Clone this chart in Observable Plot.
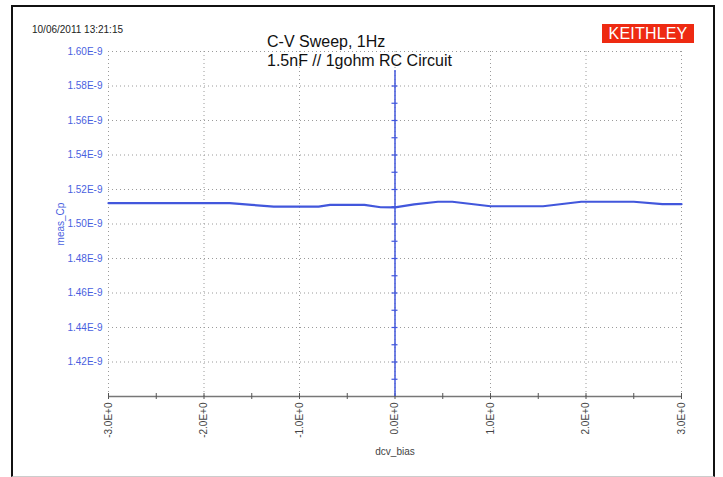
<!DOCTYPE html>
<html>
<head>
<meta charset="utf-8">
<script src="https://cdn.jsdelivr.net/npm/d3@7"></script>
<script src="https://cdn.jsdelivr.net/npm/@observablehq/plot@0.6"></script>
<style>
  html, body { margin: 0; padding: 0; background: #fff; }
  #wrap { position: relative; width: 723px; height: 477px; overflow: hidden; font-family: "Liberation Sans", Arial, sans-serif; }
  #frame { position: absolute; left: 11px; top: 5px; width: 700px; height: 469px; border-left: 2px solid #111; border-top: 2px solid #111; border-right: 2px solid #111; border-bottom: 1px solid #ccc; box-sizing: content-box; pointer-events: none; }
  #stamp { position: absolute; left: 32px; top: 24px; font-size: 10px; color: #222; }
  #title { position: absolute; left: 267px; top: 32px; font-size: 16px; line-height: 19px; color: #111; }
  #logo { position: absolute; left: 602px; top: 24px; width: 92px; height: 19px; background: #ee2a12; color: #fff; font-size: 16px; line-height: 19px; text-align: center; letter-spacing: 0.2px; }
  #chart { position: absolute; left: 0; top: 0; }
</style>
</head>
<body>
<div id="wrap">
  <div id="chart"></div>
  <div id="frame"></div>
  <div id="stamp">10/06/2011 13:21:15</div>
  <div id="title">C-V Sweep, 1Hz<br>1.5nF // 1gohm RC Circuit</div>
  <div id="logo">KEITHLEY</div>
</div>
<script>
// Data
const biasV = [-3.0, -1.73, -1.5, -1.27, -0.8, -0.68, -0.32, -0.15, 0.0, 0.2, 0.45, 0.6, 1.0, 1.55, 1.95, 2.5, 2.8, 3.0];
const measCp = [1.5121, 1.5121, 1.5111, 1.5101, 1.5101, 1.5111, 1.5111, 1.5097, 1.5096, 1.5114, 1.5129, 1.5129, 1.5103, 1.5103, 1.5129, 1.5129, 1.5115, 1.5115].map(v => v * 1e-9);

const xTicks = [-3, -2, -1, 0, 1, 2, 3];
const xMinorTicks = [-3, -2.5, -2, -1.5, -1, -0.5, 0, 0.5, 1, 1.5, 2, 2.5, 3];
const yTicks = [1.42, 1.44, 1.46, 1.48, 1.50, 1.52, 1.54, 1.56, 1.58, 1.60].map(v => v * 1e-9);
const zeroAxisTicks = [1.41, 1.42, 1.43, 1.44, 1.45, 1.46, 1.47, 1.48, 1.49, 1.50, 1.51, 1.52, 1.53, 1.54, 1.55, 1.56, 1.57, 1.58].map(v => v * 1e-9);
const xDomain = [-3, 3];
const yDomain = [1.40e-9, 1.60e-9];
const zeroAxisTop = 1.589e-9;

const blue = "#4257dc";
const data = biasV.map((x, i) => ({x, y: measCp[i]}));

const chart = Plot.plot({
  width: 723,
  height: 477,
  marginLeft: 108,
  marginRight: 42,
  marginTop: 51,
  marginBottom: 81,
  style: {fontFamily: "'Liberation Sans', Arial, sans-serif", fontSize: "10px", background: "transparent"},
  x: {domain: xDomain},
  y: {domain: yDomain},
  marks: [
    Plot.ruleY(yTicks, {stroke: "#9a9a9a", strokeDasharray: "1,3"}),
    Plot.ruleX(xTicks, {stroke: "#9a9a9a", strokeDasharray: "1,3"}),
    Plot.ruleY([yDomain[0]], {x1: xDomain[0], x2: xDomain[1], stroke: "#777", strokeWidth: 1.5}),
    Plot.ruleX(xMinorTicks, {y1: yDomain[0], y2: yDomain[0], insetTop: -3, insetBottom: -3, stroke: "#555", strokeWidth: 1}),
    Plot.ruleX([0], {y1: yDomain[0], y2: zeroAxisTop, stroke: blue, strokeWidth: 1.5}),
    Plot.ruleY(zeroAxisTicks, {x1: 0, x2: 0, insetLeft: -3, insetRight: -3, stroke: blue, strokeWidth: 1.2}),
    Plot.line(data, {x: "x", y: "y", stroke: blue, strokeWidth: 2.2}),
    Plot.axisY({
      ticks: yTicks, tickSize: 0, tickPadding: 6,
      tickFormat: d => (d * 1e9).toFixed(2) + "E-9",
      color: "#4a5fe0",
      label: "meas_Cp", labelAnchor: "center", labelOffset: 52, labelArrow: "none"
    }),
    Plot.axisX({
      ticks: xTicks, tickSize: 0, tickPadding: 6, tickRotate: -90,
      tickFormat: d => d.toFixed(1) + "E+0",
      color: "#444",
      label: "dcv_bias", labelAnchor: "center", labelOffset: 58, labelArrow: "none"
    })
  ]
});
document.getElementById("chart").appendChild(chart);
</script>
</body>
</html>
